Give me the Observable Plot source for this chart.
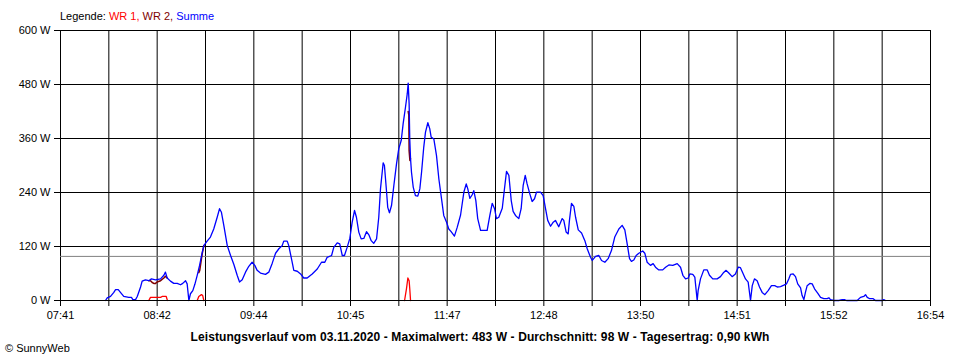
<!DOCTYPE html>
<html>
<head>
<meta charset="utf-8">
<script src="https://cdn.jsdelivr.net/npm/d3@7"></script>
<script src="https://cdn.jsdelivr.net/npm/@observablehq/plot@0.6"></script>
<style>
  html, body { margin: 0; padding: 0; background: #fff; }
  #wrap { position: relative; width: 960px; height: 360px; overflow: hidden; font-family: "Liberation Sans", Arial, sans-serif; color: #000; }
  .txt { position: absolute; font-size: 11px; line-height: 13px; white-space: nowrap; }
</style>
</head>
<body>
<div id="wrap">
  <div id="chart"></div>
  <div class="txt" id="legend" style="left:60px; top:10px;"></div>
  <div class="txt" id="title" style="left:0; width:960px; text-align:center; top:329.5px; font-weight:bold; font-size:12px; line-height:14px; letter-spacing:0.1px;"></div>
  <div class="txt" id="copy" style="left:5px; top:342px;"></div>
</div>
<script>
// ---- data ----
const startClock = "07:41";
const spanMinutes = 553; // 07:41 .. 16:54
const xTickLabels = ["07:41","08:42","09:44","10:45","11:47","12:48","13:50","14:51","15:52","16:54"];
const yTicks = [0, 120, 240, 360, 480, 600];
const averageW = 98;

// Summe (minutes after 07:41, watts)
const summeMin = [28.6,29.7,31.8,33.9,35.0,36.7,38.1,40.2,43.4,45.1,46.0,47.7,48.8,50.9,51.9,54.0,56.1,57.8,60.4,63.6,
  65.7,66.7,67.8,69.9,72.0,74.2,76.3,77.7,79.5,80.5,81.6,82.6,84.1,85.4,86.9,88.4,90.1,91.1,93.2,95.3,
  97.4,99.6,101.1,102.3,103.8,106.0,108.1,110.2,112.3,113.8,115.5,117.6,119.7,121.8,123.5,125.0,127.1,130.3,132.4,134.6,
  136.7,138.8,140.9,141.9,144.1,145.1,146.8,148.3,150.5,152.6,154.6,156.8,160.0,163.2,165.9,168.0,169.5,172.3,173.7,175.9,
  177.5,179.1,180.5,182.2,183.9,185.4,186.9,188.1,189.6,191.1,192.8,194.5,196.0,197.5,199.1,200.9,202.3,203.4,205.1,205.9,
  207.2,208.0,209.1,210.4,211.9,213.6,215.0,216.6,217.8,219.3,220.4,221.0,221.6,222.0,222.5,223.1,224.2,225.6,227.1,228.4,
  229.5,230.9,232.0,233.5,234.7,235.6,237.3,239.0,240.5,242.2,243.6,245.4,246.8,248.3,250.4,252.2,254.3,256.4,257.9,258.9,
  260.2,261.7,262.7,264.0,265.2,267.0,269.1,271.2,272.9,274.4,275.9,277.1,278.6,280.8,282.2,283.5,285.0,286.5,287.7,289.2,
  291.3,292.8,294.1,295.4,296.6,298.3,299.8,301.3,302.6,305.1,306.8,308.3,309.7,311.5,313.2,314.6,316.7,318.9,319.9,321.4,
  322.7,323.5,324.8,326.3,327.4,329.1,331.2,333.3,334.8,336.9,338.0,340.1,342.2,343.9,346.0,348.1,350.2,352.3,354.9,357.0,
  358.7,360.2,361.7,362.9,364.4,365.9,367.6,370.1,371.4,372.9,375.0,376.7,378.2,380.3,382.8,384.6,386.7,389.2,392.0,394.1,
  395.6,397.3,399.0,400.0,401.9,403.2,404.7,405.3,406.8,408.9,411.1,412.5,414.6,417.4,419.5,421.2,423.1,424.8,426.9,429.0,
  430.8,432.2,433.7,435.4,437.1,438.6,439.7,441.1,442.8,444.3,446.0,447.7,449.8,451.9,454.0,455.6,457.7,459.8,461.5,462.9,
  464.0,465.7,467.2,468.6,470.4,471.4,472.5,473.5,474.6,476.3,477.8,479.3,481.4,483.1,485.2,487.3,488.4,489.4,491.5,494.7,
  496.9,498.3,499.6,506.4,508.5,510.6,511.7,512.8,514.4,516.6,518.0,522.3,523.3,524.4];
const summeW = [0,6,9,18,24,24,18,9,7,7,2,2,9,30,43,46,44,48,46,48,
  56,63,50,43,38,38,35,38,44,37,0,15,22,36,56,78,107,122,132,141,
  159,185,204,196,167,122,100,80,56,41,46,63,76,85,78,67,61,58,63,83,
  105,115,122,132,132,122,93,67,65,59,50,50,59,70,85,85,96,100,118,128,
  126,100,100,118,138,174,200,185,152,137,138,153,146,133,127,137,185,248,306,300,
  244,207,195,211,256,304,337,356,393,430,459,483,437,359,315,285,252,233,232,248,
  285,341,374,395,382,363,359,322,270,226,189,174,159,153,143,163,190,241,259,248,
  227,235,244,222,182,156,156,156,189,216,204,182,185,205,248,287,278,222,198,189,
  182,204,256,278,259,237,220,226,241,241,233,204,178,165,174,178,164,182,178,152,
  148,178,216,209,185,157,150,133,115,96,89,98,100,89,85,93,111,141,159,167,
  157,126,93,87,90,100,105,110,105,85,78,82,74,68,68,74,79,78,82,74,
  56,48,50,59,58,52,0,22,48,68,68,56,48,48,53,61,67,61,53,59,
  74,73,61,48,41,0,33,48,44,30,18,13,22,33,33,30,31,34,37,48,
  58,59,53,37,28,11,2,18,33,38,37,26,16,7,4,4,6,2,0,0,
  2,2,0,0,7,9,13,7,4,4,0,0,2,0];

// WR 1 (null = no output)
const wr1Min = [56.1,57.2,63.6,64.6,67.2,67.8,68.0,null,86.9,87.9,89.6,90.4,91.1,null,218.7,219.9,220.8,221.6,222.0,222.5];
const wr1W   = [0,7,7,9,9,2,0,null,0,9,13,11,0,null,0,26,50,44,26,0];

// WR 2 (only where it differs from Summe, i.e. where WR 1 produced)
const wr2Min = [56.1,57.2,58.3,59.3,60.4,61.4,63.6,65.7,66.7,67.8,null,87.9,88.5,89.6,90.1,91.1,null,221.0,221.4,221.6,222.1,222.5];
const wr2W   = [44,44,40,38,38,41,44,50,54,50,null,62,67,93,104,122,null,420,412,333,311,315];

// ---- build tables ----
const summe = summeMin.map((m, i) => ({m, w: summeW[i]}));
const wr1 = wr1Min.map((m, i) => ({m, w: wr1W[i]}));
const wr2 = wr2Min.map((m, i) => ({m, w: wr2W[i]}));

const gridStep = spanMinutes / 18;
const gridX = d3.range(19).map(i => i * gridStep);
const labelFor = d => {
  const i = Math.round(d / gridStep);
  return i % 2 === 0 ? xTickLabels[i / 2] : "";
};

const chart = Plot.plot({
  width: 960,
  height: 360,
  marginLeft: 60,
  marginRight: 30,
  marginTop: 30,
  marginBottom: 60,
  style: {fontFamily: "Liberation Sans, Arial, sans-serif", fontSize: "11px", color: "#000", background: "#fff", overflow: "visible"},
  x: {domain: [0, spanMinutes]},
  y: {domain: [0, 600]},
  marks: [
    Plot.ruleX(gridX, {stroke: "#000", strokeWidth: 1}),
    Plot.ruleY(yTicks.filter(d => d > 0), {stroke: "#000", strokeWidth: 1}),
    Plot.ruleY([averageW], {stroke: "#808080", strokeWidth: 1}),
    Plot.line(wr1, {x: "m", y: "w", stroke: "#ff0000", strokeWidth: 1.3, curve: "linear"}),
    Plot.line(wr2, {x: "m", y: "w", stroke: "#800000", strokeWidth: 1.5, curve: "linear"}),
    Plot.line(summe, {x: "m", y: "w", stroke: "#0000ff", strokeWidth: 1.3, curve: "linear"}),
    Plot.ruleY([0], {stroke: "#000", strokeWidth: 1}),
    Plot.axisY(yTicks, {tickSize: 6, tickPadding: 4, tickFormat: d => `${d} W`, label: null, stroke: "#000"}),
    Plot.axisX(gridX, {tickSize: 6, tickPadding: 5, tickFormat: labelFor, label: null, stroke: "#000"})
  ]
});
document.getElementById("chart").appendChild(chart);

// texts
const legend = document.getElementById("legend");
legend.innerHTML = 'Legende: <span style="color:#ff0000">WR 1,</span> <span style="color:#800000">WR 2,</span> <span style="color:#0000ff">Summe</span>';
document.getElementById("title").textContent =
  "Leistungsverlauf vom 03.11.2020 - Maximalwert: 483 W - Durchschnitt: 98 W - Tagesertrag: 0,90 kWh";
document.getElementById("copy").textContent = "\u00A9 SunnyWeb";
</script>
</body>
</html>
